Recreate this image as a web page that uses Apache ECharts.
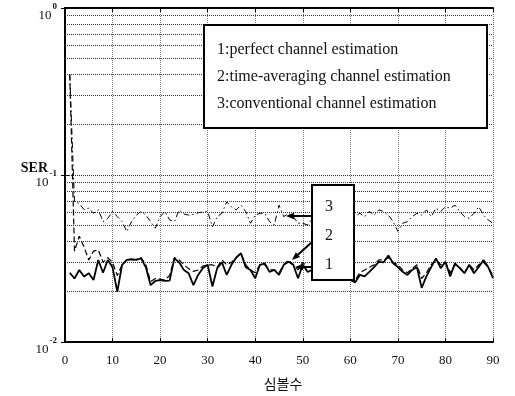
<!DOCTYPE html>
<html><head><meta charset="utf-8">
<script src="https://cdn.jsdelivr.net/npm/echarts@6.0.0/dist/echarts.min.js"></script>
<style>html,body{margin:0;padding:0;background:#fff}#c{width:515px;height:396px}</style>
</head><body><div id="c"></div>
<script>
// ---- data ----
const symbolIndex = Array.from({length: 90}, (_, i) => i + 1);
const perfectSER = [0.026,0.024,0.027,0.0247,0.0258,0.0235,0.031,0.026,0.031,0.028,
 0.020,0.029,0.031,0.0313,0.031,0.0317,0.028,0.0219,0.0232,0.0235,
 0.0232,0.0233,0.0317,0.030,0.027,0.0258,0.0219,0.0252,0.0277,0.029,
 0.0215,0.0277,0.030,0.0252,0.029,0.032,0.034,0.028,0.027,0.0241,
 0.029,0.0296,0.0263,0.027,0.0252,0.029,0.0302,0.029,0.0241,0.029,
 0.0263,0.027,0.028,0.026,0.029,0.027,0.025,0.026,0.024,0.0235,
 0.0227,0.0252,0.0247,0.0263,0.0281,0.0302,0.030,0.033,0.0296,0.0281,
 0.0263,0.0252,0.027,0.0281,0.0211,0.0247,0.0281,0.0317,0.0277,0.0302,
 0.0247,0.0296,0.0277,0.0258,0.029,0.0258,0.0281,0.031,0.0281,0.0241];
const timeAvgSER = [0.40,0.035,0.043,0.037,0.031,0.035,0.0356,0.030,0.032,0.030,
 0.025,0.029,0.031,0.031,0.0313,0.032,0.029,0.023,0.024,0.0238,
 0.0235,0.025,0.032,0.031,0.029,0.0275,0.0265,0.027,0.0285,0.029,
 0.029,0.028,0.031,0.029,0.030,0.032,0.034,0.029,0.027,0.026,
 0.029,0.029,0.027,0.027,0.026,0.029,0.031,0.029,0.027,0.030,
 0.028,0.028,0.029,0.027,0.029,0.028,0.026,0.027,0.025,0.024,
 0.0235,0.026,0.027,0.028,0.029,0.031,0.031,0.032,0.030,0.029,
 0.027,0.026,0.0275,0.029,0.024,0.026,0.029,0.031,0.029,0.030,
 0.026,0.029,0.028,0.026,0.029,0.027,0.029,0.030,0.028,0.025];
const conventionalSER = [0.40,0.069,0.0676,0.062,0.0633,0.059,0.062,0.0526,0.055,0.0605,
 0.0563,0.0526,0.0458,0.0526,0.0575,0.0605,0.0575,0.0526,0.048,0.0563,
 0.0605,0.0538,0.0526,0.0618,0.0584,0.0575,0.058,0.0594,0.060,0.0605,
 0.0489,0.0563,0.059,0.069,0.0645,0.0618,0.066,0.0605,0.0514,0.0575,
 0.059,0.059,0.0526,0.0502,0.066,0.0563,0.059,0.0563,0.0514,0.0514,
 0.0502,0.055,0.058,0.056,0.06,0.057,0.055,0.058,0.056,0.055,
 0.0563,0.059,0.0563,0.0605,0.0575,0.0618,0.0605,0.0575,0.0526,0.046,
 0.0514,0.0526,0.0563,0.059,0.0575,0.0618,0.0563,0.0633,0.0605,0.0645,
 0.0633,0.066,0.0605,0.0563,0.055,0.059,0.0645,0.0575,0.0538,0.0514];
const yMinorGrid = [0.02,0.03,0.04,0.05,0.06,0.07,0.08,0.09,0.2,0.3,0.4,0.5,0.6,0.7,0.8,0.9];
const legendLines = ['1:perfect channel estimation','2:time-averaging channel estimation','3:conventional channel estimation'];
const tagLabels = ['3','2','1'];
const xName = '심볼수';
const yName = 'SER';

// ---- chart ----
const SERIF = 'Liberation Serif';
const chart = echarts.init(document.getElementById('c'), null, {renderer: 'canvas'});
const pair = arr => symbolIndex.map((x, i) => [x, arr[i]]);

function arrow(x1, y1, x2, y2) {
  const a = Math.atan2(y2 - y1, x2 - x1), L = 8, W = 3.2;
  const bx = x2 - L * Math.cos(a), by = y2 - L * Math.sin(a);
  return [
    {type: 'line', z: 101, shape: {x1, y1, x2: bx, y2: by}, style: {stroke: '#000', lineWidth: 2}},
    {type: 'polygon', z: 101, shape: {points: [[x2, y2], [bx - W * Math.sin(a), by + W * Math.cos(a)], [bx + W * Math.sin(a), by - W * Math.cos(a)]]}, style: {fill: '#000'}}
  ];
}

const graphics = [
  {type: 'rect', z: 100, shape: {x: 204, y: 25, width: 283, height: 103}, style: {fill: '#fff', stroke: '#000', lineWidth: 2}},
  ...legendLines.map((t, i) => ({type: 'text', z: 101, x: 217, y: 50 + i * 27,
    style: {text: t, font: '16px "Liberation Serif"', fill: '#111', verticalAlign: 'middle'}})),
  {type: 'rect', z: 100, shape: {x: 312, y: 185, width: 42, height: 95}, style: {fill: '#fff', stroke: '#000', lineWidth: 2}},
  ...tagLabels.map((t, i) => ({type: 'text', z: 101, x: 329, y: 207 + i * 29,
    style: {text: t, font: '16px "Liberation Serif"', fill: '#111', align: 'center', verticalAlign: 'middle'}})),
  ...arrow(312, 216, 286, 216),
  ...arrow(312, 242, 292, 260),
  ...arrow(312, 267, 295, 267)
];

const axisLineStyle = {lineStyle: {color: '#000', width: 2}};
chart.setOption({
  animation: false,
  backgroundColor: '#fff',
  grid: {left: 65, right: 22, top: 8, bottom: 54, containLabel: false},
  xAxis: [{
    type: 'value', min: 0, max: 90, interval: 10, position: 'bottom',
    axisLine: axisLineStyle,
    axisTick: {inside: true, length: 4, lineStyle: {color: '#000'}},
    axisLabel: {fontFamily: SERIF, fontSize: 13, color: '#111', margin: 12},
    splitLine: {show: true, lineStyle: {type: 'dotted', color: '#777', width: 1}},
    name: xName, nameLocation: 'middle', nameGap: 35, nameMoveOverlap: false,
    nameTextStyle: {fontFamily: 'Noto Sans CJK KR', fontSize: 14, color: '#111', padding: [0, 0, 0, 8]}
  }, {
    type: 'value', min: 0, max: 90, interval: 10, position: 'top',
    axisLine: axisLineStyle,
    axisTick: {inside: true, length: 4, lineStyle: {color: '#000'}},
    axisLabel: {show: false}, splitLine: {show: false}
  }],
  yAxis: [{
    type: 'log', logBase: 10, min: 0.01, max: 1, interval: 1, position: 'left',
    axisLine: axisLineStyle,
    axisTick: {inside: true, length: 4, lineStyle: {color: '#000'}},
    splitLine: {show: true, lineStyle: {type: 'dotted', color: '#333', width: 1}},
    axisLabel: {
      margin: 8,
      formatter: v => '{b|10}{e|' + Math.round(Math.log10(v)) + '}',
      rich: {
        b: {fontFamily: SERIF, fontSize: 13, color: '#111', padding: [15, 0, 0, 0], verticalAlign: 'top'},
        e: {fontFamily: SERIF, fontSize: 9, color: '#111', fontWeight: 'bold', padding: [8, 0, 0, 1], verticalAlign: 'top'}
      }
    },
    name: yName, nameLocation: 'middle', nameRotate: 0, nameGap: 17, nameMoveOverlap: false,
    nameTextStyle: {fontFamily: SERIF, fontWeight: 'bold', fontSize: 14, color: '#111', align: 'right', verticalAlign: 'bottom', padding: [0, 0, 0, 0]}
  }, {
    type: 'log', logBase: 10, min: 0.01, max: 1, interval: 1, position: 'right',
    axisLine: axisLineStyle,
    axisTick: {inside: true, length: 4, lineStyle: {color: '#000'}},
    axisLabel: {show: false}, splitLine: {show: false}
  }],
  series: [{
    name: legendLines[0], type: 'line', showSymbol: false, symbol: 'none', data: pair(perfectSER),
    lineStyle: {color: '#000', width: 1.8, type: 'solid'}, z: 5,
    markLine: {silent: true, symbol: ['none', 'none'], label: {show: false}, z: 1,
      lineStyle: {type: 'dotted', color: '#333', width: 1},
      data: yMinorGrid.map(v => ({yAxis: v}))}
  }, {
    name: legendLines[1], type: 'line', showSymbol: false, symbol: 'none', data: pair(timeAvgSER),
    lineStyle: {color: '#000', width: 1.2, type: [6, 3]}, z: 4
  }, {
    name: legendLines[2], type: 'line', showSymbol: false, symbol: 'none', data: pair(conventionalSER),
    lineStyle: {color: '#000', width: 1, type: [6, 3, 1.5, 3]}, z: 3
  }],
  graphic: graphics
});
</script></body></html>
